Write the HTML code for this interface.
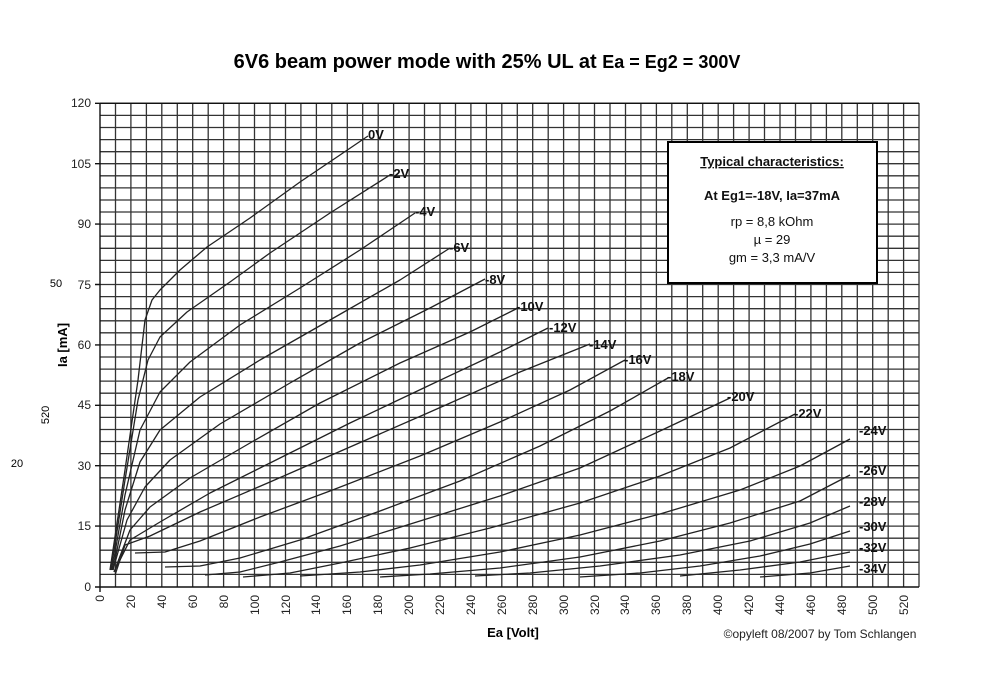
<!DOCTYPE html>
<html><head><meta charset="utf-8"><style>
html,body{margin:0;padding:0;background:#fff;}
svg{display:block;font-family:"Liberation Sans",sans-serif;}
</style></head><body>
<svg width="1000" height="688" viewBox="0 0 1000 688" xmlns="http://www.w3.org/2000/svg">
<rect width="1000" height="688" fill="#fff"/>
<text x="487" y="68" text-anchor="middle" font-size="20" font-weight="bold">6V6 beam power mode with 25% UL at <tspan font-size="18">Ea = Eg2 = 300V</tspan></text>
<g id="grid" stroke="#333" stroke-width="1.3" fill="none">
<path d="M100,103.3H919M100,115.4H919M100,127.5H919M100,139.6H919M100,151.7H919M100,163.7H919M100,175.8H919M100,187.9H919M100,200H919M100,212H919M100,224.1H919M100,236.2H919M100,248.3H919M100,260.4H919M100,272.4H919M100,284.5H919M100,296.6H919M100,308.7H919M100,320.8H919M100,332.8H919M100,344.9H919M100,357H919M100,369.1H919M100,381.1H919M100,393.2H919M100,405.3H919M100,417.4H919M100,429.5H919M100,441.5H919M100,453.6H919M100,465.7H919M100,477.8H919M100,489.9H919M100,501.9H919M100,514H919M100,526.1H919M100,538.2H919M100,550.2H919M100,562.3H919M100,574.4H919"/>
<path d="M115.5,103V587M130.9,103V587M146.4,103V587M161.8,103V587M177.3,103V587M192.7,103V587M208.2,103V587M223.6,103V587M239.1,103V587M254.5,103V587M270,103V587M285.5,103V587M300.9,103V587M316.4,103V587M331.8,103V587M347.3,103V587M362.7,103V587M378.2,103V587M393.6,103V587M409.1,103V587M424.5,103V587M440,103V587M455.5,103V587M470.9,103V587M486.4,103V587M501.8,103V587M517.3,103V587M532.7,103V587M548.2,103V587M563.6,103V587M579.1,103V587M594.5,103V587M610,103V587M625.5,103V587M640.9,103V587M656.4,103V587M671.8,103V587M687.3,103V587M702.7,103V587M718.2,103V587M733.6,103V587M749.1,103V587M764.5,103V587M780,103V587M795.5,103V587M810.9,103V587M826.4,103V587M841.8,103V587M857.3,103V587M872.7,103V587M888.2,103V587M903.6,103V587M919,103V587"/>
</g>
<path d="M95,103.3H919M100,103V592M95,587H919M95,526.1H100M95,465.7H100M95,405.3H100M95,344.9H100M95,284.5H100M95,224.1H100M95,163.7H100" stroke="#111" stroke-width="1.4" fill="none"/>
<g font-size="12" text-anchor="end" fill="#222">
<text x="91" y="107">120</text><text x="91" y="168">105</text><text x="91" y="228">90</text><text x="91" y="289">75</text><text x="91" y="349">60</text><text x="91" y="409">45</text><text x="91" y="470">30</text><text x="91" y="530">15</text><text x="91" y="591">0</text>
</g>
<g font-size="12" text-anchor="end" fill="#222">
<text transform="translate(104,595) rotate(-90)">0</text><text transform="translate(135,595) rotate(-90)">20</text><text transform="translate(166,595) rotate(-90)">40</text><text transform="translate(197,595) rotate(-90)">60</text><text transform="translate(228,595) rotate(-90)">80</text><text transform="translate(259,595) rotate(-90)">100</text><text transform="translate(290,595) rotate(-90)">120</text><text transform="translate(320,595) rotate(-90)">140</text><text transform="translate(351,595) rotate(-90)">160</text><text transform="translate(382,595) rotate(-90)">180</text><text transform="translate(413,595) rotate(-90)">200</text><text transform="translate(444,595) rotate(-90)">220</text><text transform="translate(475,595) rotate(-90)">240</text><text transform="translate(506,595) rotate(-90)">260</text><text transform="translate(537,595) rotate(-90)">280</text><text transform="translate(568,595) rotate(-90)">300</text><text transform="translate(599,595) rotate(-90)">320</text><text transform="translate(629,595) rotate(-90)">340</text><text transform="translate(660,595) rotate(-90)">360</text><text transform="translate(691,595) rotate(-90)">380</text><text transform="translate(722,595) rotate(-90)">400</text><text transform="translate(753,595) rotate(-90)">420</text><text transform="translate(784,595) rotate(-90)">440</text><text transform="translate(815,595) rotate(-90)">460</text><text transform="translate(846,595) rotate(-90)">480</text><text transform="translate(877,595) rotate(-90)">500</text><text transform="translate(908,595) rotate(-90)">520</text>
</g>
<g stroke="#222" stroke-width="1.3" fill="none" stroke-linejoin="round">
<polyline points="110,570 125,470 138,380 145,320 152,300 160,290 180,270 207,247 250,218 300,182 340,155 368,136"/>
<polyline points="111,570 125,480 138,400 148,360 160,337 187,312 230,282 270,253 330,213 390,175"/>
<polyline points="112,570 125,495 140,430 160,392 190,362 240,325 300,288 360,250 415,213"/>
<polyline points="113,570 125,510 140,462 160,430 200,397 260,360 330,320 400,280 450,248"/>
<polyline points="113,570 127,520 145,487 170,460 220,424 290,383 360,343 430,308 485,279"/>
<polyline points="114,572 130,530 150,507 190,478 250,443 320,403 400,363 470,332 518,308"/>
<polyline points="114,572 130,540 160,522 210,493 280,458 350,423 430,385 500,352 548,328"/>
<polyline points="115,575 125,545 150,536 200,512 270,482 350,447 430,412 520,372 590,344"/>
<polyline points="135,553 165,552 200,541 260,517 330,491 420,456 500,422 570,390 625,360"/>
<polyline points="165,567 200,566 240,558 300,540 380,511 460,481 540,446 610,411 668,378"/>
<polyline points="205,575 240,572 280,562 340,546 420,521 500,496 580,468 660,431 730,398"/>
<polyline points="243,577 290,573 340,563 410,548 490,528 580,503 660,476 730,448 795,414"/>
<polyline points="300,576 360,572 420,565 500,552 580,535 660,514 740,490 800,466 850,439"/>
<polyline points="380,577 430,574 500,568 580,557 660,541 730,523 800,501 850,475"/>
<polyline points="475,576 530,573 600,566 680,555 750,541 810,523 850,506"/>
<polyline points="580,577 640,573 700,566 760,556 810,544 850,531"/>
<polyline points="680,576 740,570 800,562 850,552"/>
<polyline points="760,577 810,573 850,566"/>
</g>
<g font-size="13" font-weight="bold" fill="#111">
<text x="368" y="139">0V</text><text x="389" y="178">-2V</text><text x="415" y="216">-4V</text><text x="449" y="252">-6V</text><text x="485" y="284">-8V</text><text x="516" y="311">-10V</text><text x="549" y="332">-12V</text><text x="589" y="349">-14V</text><text x="624" y="364">-16V</text><text x="667" y="381">-18V</text><text x="727" y="401">-20V</text><text x="794" y="418">-22V</text><text x="859" y="435">-24V</text><text x="859" y="475">-26V</text><text x="859" y="506">-28V</text><text x="859" y="531">-30V</text><text x="859" y="552">-32V</text><text x="859" y="573">-34V</text>
</g>
<rect x="668" y="142" width="209" height="141" fill="#fff" stroke="#000" stroke-width="2"/>
<g text-anchor="middle" fill="#111">
<text x="772" y="166" font-size="13" font-weight="bold" text-decoration="underline">Typical characteristics:</text>
<text x="772" y="200" font-size="13" font-weight="bold">At Eg1=-18V, Ia=37mA</text>
<text x="772" y="226" font-size="13">rp =  8,8 kOhm</text>
<text x="772" y="244" font-size="13">µ = 29</text>
<text x="772" y="262" font-size="13">gm = 3,3 mA/V</text>
</g>
<text x="513" y="637" font-size="13" font-weight="bold" text-anchor="middle">Ea [Volt]</text>
<text x="820" y="638" font-size="12" text-anchor="middle" fill="#222">©opyleft 08/2007 by Tom Schlangen</text>
<text transform="translate(67,345) rotate(-90)" font-size="13" font-weight="bold" text-anchor="middle">Ia [mA]</text>
<text x="56" y="287" font-size="11" text-anchor="middle">50</text>
<text transform="translate(49,415) rotate(-90)" font-size="11" text-anchor="middle">520</text>
<text x="17" y="467" font-size="11" text-anchor="middle">20</text>
</svg>
</body></html>
